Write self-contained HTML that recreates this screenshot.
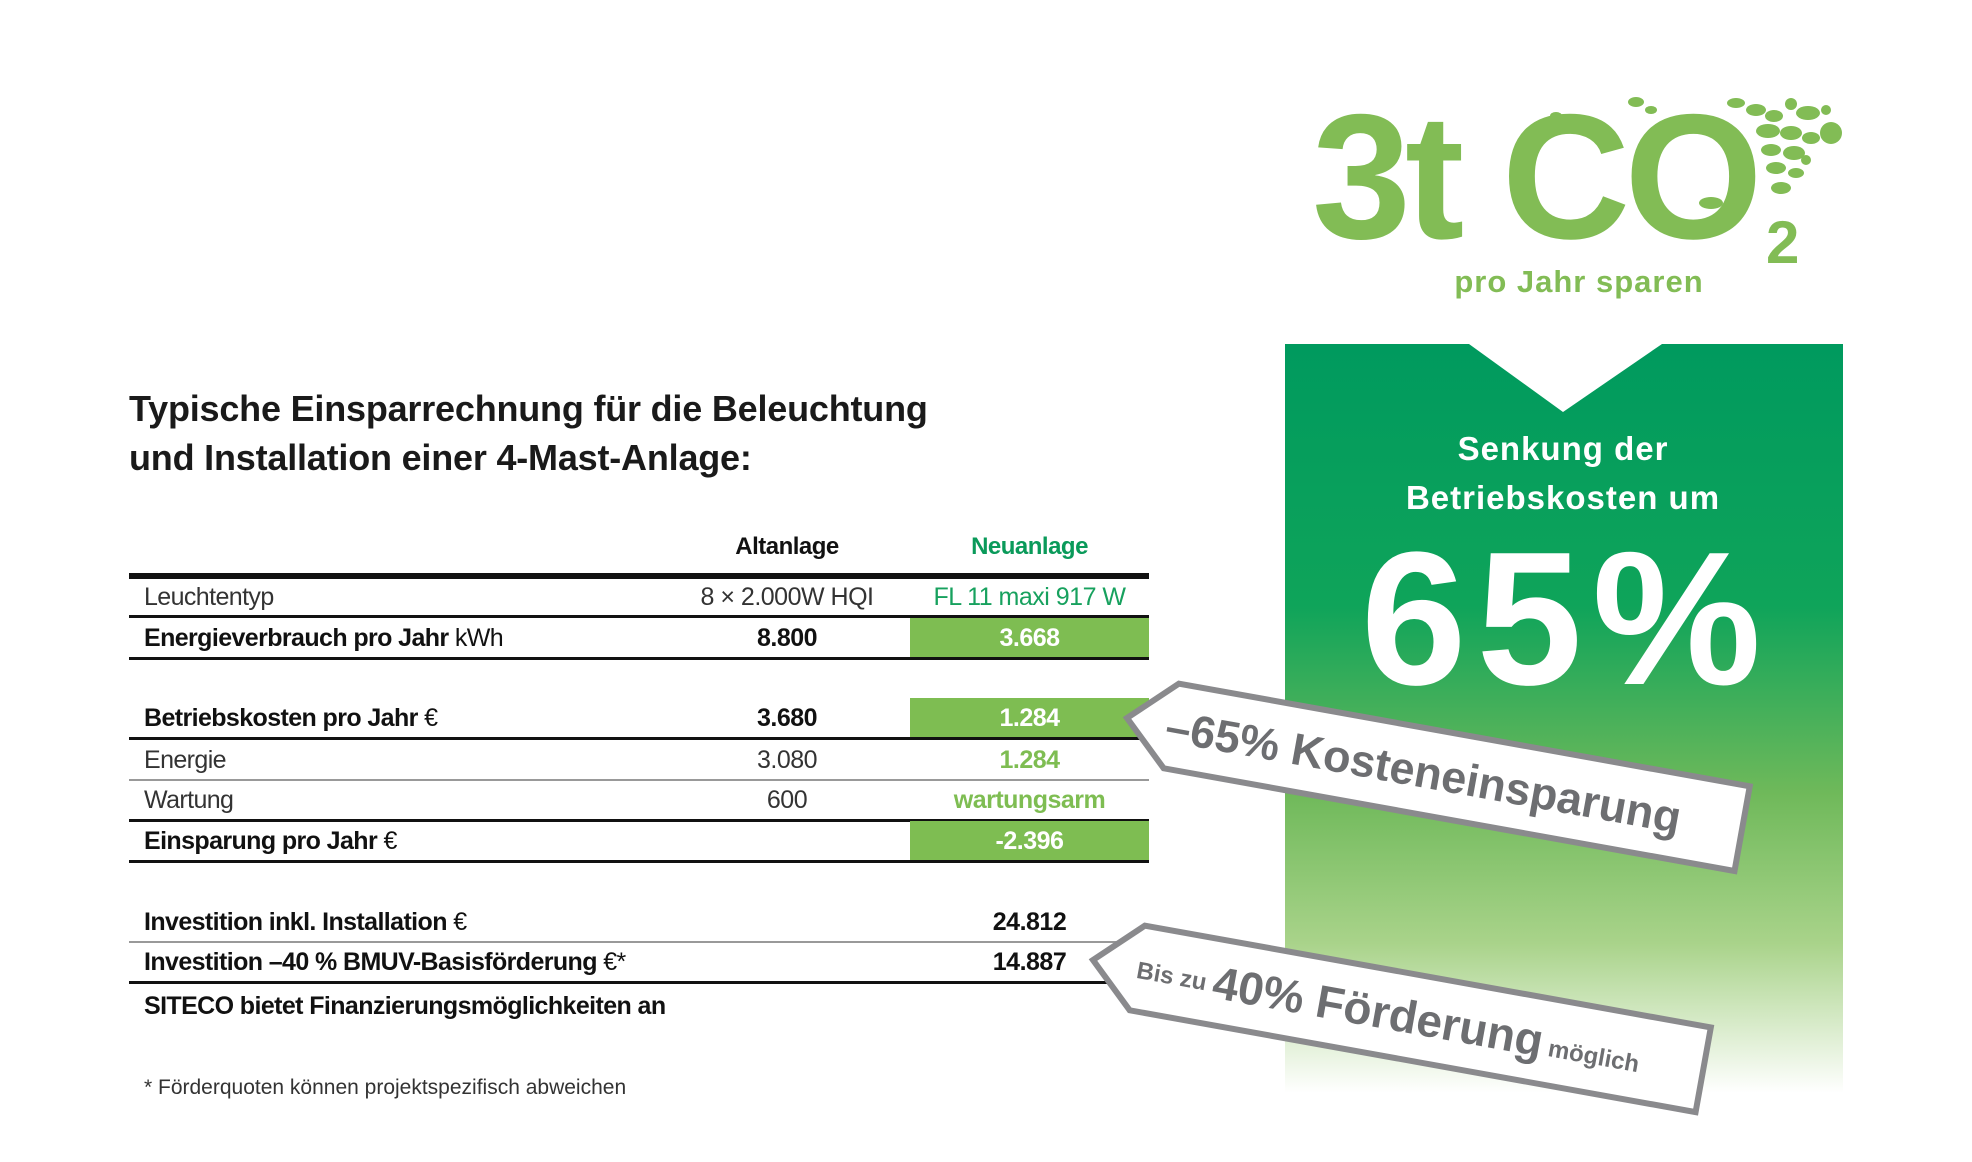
<!DOCTYPE html>
<html><head><meta charset="utf-8"><style>
body{margin:0;width:1972px;height:1162px;background:#fff;position:relative;overflow:hidden;font-family:"Liberation Sans",sans-serif;color:#111}
.a{position:absolute;white-space:nowrap}
.title{left:129px;font-size:36px;font-weight:bold;color:#1a1a1a;letter-spacing:-0.2px}
.row{position:absolute;left:129px;width:1020px;height:40px;white-space:nowrap}
.lbl{position:absolute;left:15px;font-size:25px;line-height:40px;letter-spacing:-0.6px;white-space:nowrap}
.c1{position:absolute;left:518px;width:280px;text-align:center;font-size:25px;line-height:40px;letter-spacing:-0.5px;white-space:nowrap}
.c2{position:absolute;left:781px;width:239px;text-align:center;font-size:25px;line-height:40px;letter-spacing:-0.5px;white-space:nowrap}
.g{background:#7ebd52;color:#fff;font-weight:bold}
.ln{position:absolute;left:129px;width:1020px;background:#111}
.gl{position:absolute;left:129px;width:1020px;height:2px;background:#999}
b{font-weight:bold}
</style></head><body>
<div class="a title" style="top:388px">Typische Einsparrechnung für die Beleuchtung</div>
<div class="a title" style="top:437px">und Installation einer 4-Mast-Anlage:</div>

<div class="a" style="left:707px;width:160px;text-align:center;top:533px;font-size:24px;font-weight:bold;letter-spacing:-0.5px">Altanlage</div>
<div class="a" style="left:910px;width:239px;text-align:center;top:533px;font-size:24px;font-weight:bold;color:#0a9a5a;letter-spacing:-0.5px">Neuanlage</div>
<div class="ln" style="top:573px;height:6px"></div>

<div class="row" style="top:577px"><span class="lbl" style="color:#333">Leuchtentyp</span><span class="c1" style="color:#333">8 × 2.000W HQI</span><span class="c2" style="color:#17a15e">FL 11 maxi 917 W</span></div>
<div class="ln" style="top:615px;height:3px"></div>
<div class="row" style="top:618px"><span class="lbl"><b>Energieverbrauch pro Jahr</b> kWh</span><span class="c1"><b>8.800</b></span><span class="c2 g">3.668</span></div>
<div class="ln" style="top:657px;height:3px"></div>

<div class="row" style="top:698px"><span class="lbl"><b>Betriebskosten pro Jahr</b> €</span><span class="c1"><b>3.680</b></span><span class="c2 g">1.284</span></div>
<div class="ln" style="top:737px;height:3px"></div>
<div class="row" style="top:740px"><span class="lbl" style="color:#333">Energie</span><span class="c1" style="color:#333">3.080</span><span class="c2" style="color:#7ebd52;font-weight:bold">1.284</span></div>
<div class="gl" style="top:779px"></div>
<div class="row" style="top:780px"><span class="lbl" style="color:#333">Wartung</span><span class="c1" style="color:#333">600</span><span class="c2" style="color:#7ebd52;font-weight:bold">wartungsarm</span></div>
<div class="ln" style="top:819px;height:3px"></div>
<div class="row" style="top:821px"><span class="lbl"><b>Einsparung pro Jahr</b> €</span><span class="c2 g">-2.396</span></div>
<div class="ln" style="top:860px;height:3px"></div>

<div class="row" style="top:902px"><span class="lbl"><b>Investition inkl. Installation</b> €</span><span class="c2"><b>24.812</b></span></div>
<div class="gl" style="top:941px"></div>
<div class="row" style="top:942px"><span class="lbl"><b>Investition –40 % BMUV-Basisförderung</b> €*</span><span class="c2"><b>14.887</b></span></div>
<div class="ln" style="top:981px;height:3px"></div>
<div class="row" style="top:986px"><span class="lbl"><b>SITECO bietet Finanzierungsmöglichkeiten an</b></span></div>
<div class="a" style="left:144px;top:1076px;font-size:21px;color:#333">* Förderquoten können projektspezifisch abweichen</div>

<svg class="a" style="left:0;top:0" width="1972" height="1162">
<defs><linearGradient id="gr" x1="0" y1="0" x2="0" y2="1">
<stop offset="0" stop-color="#009a5e"/><stop offset="0.35" stop-color="#0fa45a"/><stop offset="0.6" stop-color="#6fb95a"/><stop offset="0.8" stop-color="#a9d38a"/><stop offset="1" stop-color="#ffffff"/></linearGradient></defs>
<polygon points="1285,344 1469,344 1563,412 1662,344 1843,344 1843,1093 1285,1093" fill="url(#gr)"/>
<text x="1563" y="460" text-anchor="middle" font-size="33" font-weight="bold" fill="#fff" letter-spacing="1">Senkung der</text>
<text x="1563" y="509" text-anchor="middle" font-size="33" font-weight="bold" fill="#fff" letter-spacing="1">Betriebskosten um</text>
<text x="1566" y="684" text-anchor="middle" font-size="190" font-weight="bold" fill="#fff" letter-spacing="10">65%</text>

<text x="1312" y="238" font-size="178" font-weight="bold" fill="#82bc55" letter-spacing="-6">3t CO</text>
<text x="1766" y="263" font-size="60" font-weight="bold" fill="#82bc55">2</text>
<text x="1579" y="292" text-anchor="middle" font-size="31" font-weight="bold" fill="#82bc55" letter-spacing="1">pro Jahr sparen</text>
<g fill="#82bc55">
<ellipse cx="1736" cy="103" rx="9" ry="5"/><ellipse cx="1756" cy="110" rx="10" ry="6"/><ellipse cx="1774" cy="116" rx="9" ry="6"/><ellipse cx="1791" cy="104" rx="6" ry="6"/><ellipse cx="1808" cy="113" rx="12" ry="7"/><ellipse cx="1826" cy="110" rx="5" ry="5"/><ellipse cx="1831" cy="133" rx="11" ry="11"/>
<ellipse cx="1768" cy="131" rx="12" ry="7"/><ellipse cx="1791" cy="133" rx="11" ry="7"/><ellipse cx="1811" cy="138" rx="9" ry="6"/><ellipse cx="1771" cy="150" rx="10" ry="6"/><ellipse cx="1794" cy="153" rx="11" ry="7"/><ellipse cx="1776" cy="168" rx="10" ry="6"/><ellipse cx="1796" cy="173" rx="8" ry="5"/><ellipse cx="1781" cy="188" rx="10" ry="6"/><ellipse cx="1806" cy="160" rx="5" ry="5"/>
<ellipse cx="1556" cy="116" rx="6" ry="4"/><ellipse cx="1636" cy="102" rx="8" ry="5"/><ellipse cx="1651" cy="110" rx="6" ry="4"/><ellipse cx="1711" cy="203" rx="12" ry="6"/><ellipse cx="1731" cy="208" rx="8" ry="5"/>
</g>

<g transform="translate(1127,718) rotate(10.2)">
<polygon points="0,0 45,-43 625,-43 625,43 45,43" fill="#fff" stroke="#8a8a8d" stroke-width="6" stroke-linejoin="miter"/>
<text x="40" y="16" font-size="45" font-weight="bold" fill="#6d6e71">–65% Kosteneinsparung</text>
</g>
<g transform="translate(1093,960) rotate(10.2)">
<polygon points="0,0 45,-43 620,-43 620,43 45,43" fill="#fff" stroke="#8a8a8d" stroke-width="6" stroke-linejoin="miter"/>
<text x="45" y="10" font-size="24" font-weight="bold" fill="#6d6e71">Bis zu <tspan font-size="46" dy="6">40% Förderung</tspan><tspan font-size="24" dy="-2"> möglich</tspan></text>
</g>
</svg>
</body></html>
